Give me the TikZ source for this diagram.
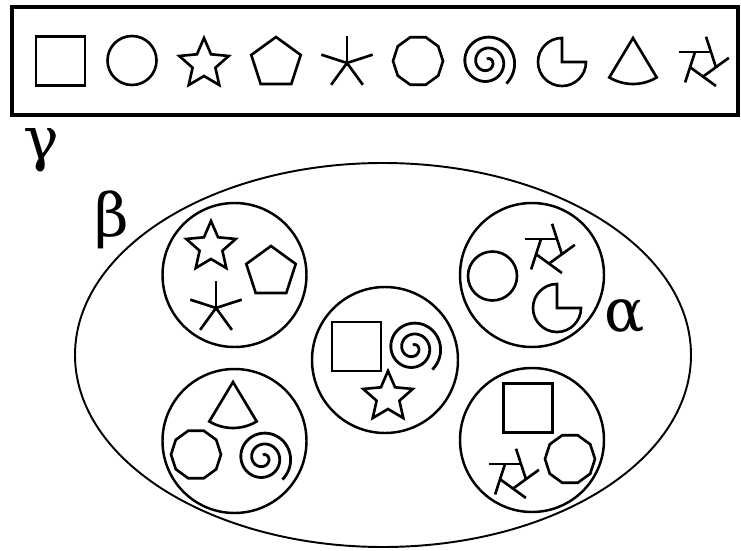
\documentclass[tikz,border=0pt]{standalone}
\usepackage{fontspec}
\setmainfont{DejaVu Serif}
\usetikzlibrary{calc}
\tikzset{
  sym/.style={line width=1.5pt},
  bag/.style={line width=1.4pt},
  lbl/.style={font=\fontsize{34}{34}\selectfont,inner sep=0pt},
  pics/sqr/.style={code={\draw[sym] (-24.5,-24.5) rectangle (24.5,24.5);}},
  pics/rnd/.style={code={\draw[sym] (0,0) circle[radius=24.5];}},
  pics/star5/.style={code={\begin{scope}[yscale=-1]
    \draw[sym] (90:26) \foreach \k in {1,...,5}{ -- ({90+72*\k-36}:12) -- ({90+72*\k}:26)} -- cycle;
  \end{scope}}},
  pics/penta/.style={code={\begin{scope}[yscale=-1]
    \draw[sym] (90:26) \foreach \k in {1,...,4}{ -- ({90+72*\k}:26)} -- cycle;
  \end{scope}}},
  pics/aster/.style={code={\begin{scope}[yscale=-1]
    \foreach \k in {0,...,4} \draw[sym] (0,0) -- ({90+72*\k}:27);
  \end{scope}}},
  pics/deca/.style={code={
    \draw[sym] (0:25) \foreach \k in {1,...,9}{ -- ({36*\k}:25)} -- cycle;
  }},
  pics/spiral/.style={code={\begin{scope}[yscale=-1]
    \draw[sym,line width=1.6pt] plot[domain=0:860,samples=170,smooth,variable=\t] ({-48+\t}:{29-\t/33});
  \end{scope}}},
  pics/pac/.style={code={\begin{scope}[yscale=-1]
    \draw[sym] (0,0) -- (0,24) arc[start angle=90,end angle=360,radius=24] -- cycle;
  \end{scope}}},
  pics/sector/.style={code={\begin{scope}[yscale=-1]
    \draw[sym] (0,0) -- (239:46) arc[start angle=239,end angle=301,radius=46] -- cycle;
  \end{scope}}},
  pics/wheel/.style={code={\begin{scope}[yscale=-1]
    \foreach \a in {54,126,198,270,342}
      \draw[sym] ({\a-72}:13.6) -- ($({\a-72}:13.6)!2!({\a}:13.6)$);
  \end{scope}}}
}

\begin{document}
\begin{tikzpicture}[x=0.02cm,y=-0.02cm]
\useasboundingbox (0,0) rectangle (741,551);

% the alphabet
\draw[line width=2pt] (12,7) rectangle (738,115);
\pic at (60.5,61) {sqr};
\pic at (132,60.5) {rnd};
\pic at (204,64) {star5};
\pic at (276,63) {penta};
\pic at (347,63) {aster};
\pic at (418,61) {deca};
\pic at (487,62) {spiral};
\pic at (562,62) {pac};
\pic at (633,38) {sector};
\pic at (703,63) {wheel};

\node[lbl] (gamma) at (41,150) {γ};

% the family
\draw[line width=1.1pt] (383,355) ellipse [x radius=308,y radius=192];
\node[lbl] (beta) at (112,220) {β};

% sets
\draw[bag] (234.5,275) circle[radius=72];
\pic at (211,247) {star5};
\pic at (271,272) {penta};
\pic at (216,308) {aster};

\draw[bag] (532,275) circle[radius=72];
\pic at (492.5,276) {rnd};
\pic at (549,250) {wheel};
\pic at (557,308) {pac};
\node[lbl] (alpha) at (625,317) {α};

\draw[bag] (385,360) circle[radius=73];
\pic at (356.5,346.5) {sqr};
\pic at (413,348) {spiral};
\pic at (388,397) {star5};

\draw[bag] (234.5,441) circle[radius=72];
\pic at (233,382) {sector};
\pic at (196,454.5) {deca};
\pic at (263,458) {spiral};

\draw[bag] (532,440) circle[radius=72];
\pic at (528,408) {sqr};
\pic at (570,459) {deca};
\pic at (513,475) {wheel};
\end{tikzpicture}
\end{document}
